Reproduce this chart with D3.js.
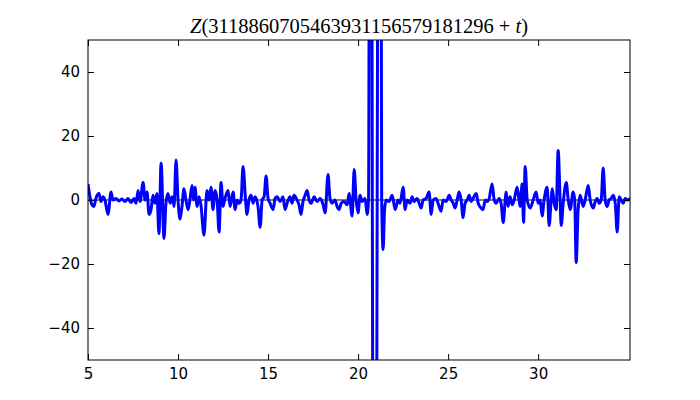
<!DOCTYPE html>
<html>
<head>
<meta charset="utf-8">
<script src="https://cdn.jsdelivr.net/npm/d3@7"></script>
<style>
  body { margin: 0; background: #fff; }
  svg { display: block; }
  .tick text { font-family: "DejaVu Sans", sans-serif; font-size: 15px; fill: #000; }
</style>
</head>
<body>
<div id="chart"></div>
<script>
// t values and Z(...) values
var tVals = [5.00,5.11,5.22,5.33,5.44,5.61,5.72,5.83,5.94,6.11,6.28,6.39,6.56,6.72,6.89,7.06,7.22,7.39,7.56,7.67,
  7.78,7.89,8.06,8.17,8.28,8.39,8.50,8.61,8.72,8.83,8.94,9.06,9.22,9.33,9.44,9.56,9.67,9.78,9.89,10.00,
  10.11,10.22,10.33,10.44,10.56,10.67,10.78,10.86,10.94,11.06,11.17,11.28,11.44,11.61,11.72,11.83,11.94,12.06,12.17,12.28,
  12.39,12.50,12.61,12.78,12.89,13.06,13.17,13.28,13.39,13.50,13.61,13.75,13.83,13.94,14.06,14.17,14.28,14.44,14.56,14.67,
  14.78,14.89,15.00,15.11,15.28,15.39,15.50,15.67,15.83,15.94,16.06,16.22,16.33,16.44,16.61,16.72,16.83,16.94,17.06,17.17,
  17.28,17.39,17.56,17.72,17.89,18.06,18.17,18.33,18.44,18.56,18.72,18.83,18.94,19.06,19.22,19.39,19.50,19.67,19.78,19.89,
  20.00,20.11,20.22,20.39,20.50,20.58,20.69,20.79,20.92,21.06,21.19,21.31,21.39,21.47,21.56,21.72,21.89,22.06,22.22,22.33,
  22.50,22.61,22.72,22.89,23.00,23.11,23.28,23.39,23.50,23.61,23.78,23.94,24.06,24.17,24.33,24.44,24.61,24.72,24.89,25.06,
  25.17,25.28,25.39,25.50,25.61,25.72,25.83,25.94,26.06,26.17,26.28,26.39,26.56,26.67,26.83,26.94,27.06,27.17,27.28,27.44,
  27.56,27.67,27.83,27.94,28.06,28.17,28.22,28.33,28.44,28.56,28.67,28.83,28.94,29.00,29.11,29.19,29.28,29.39,29.56,29.72,
  29.89,30.00,30.11,30.22,30.33,30.50,30.61,30.72,30.78,30.89,31.00,31.11,31.22,31.28,31.39,31.56,31.67,31.78,31.94,32.03,
  32.11,32.22,32.33,32.50,32.61,32.78,32.89,33.06,33.17,33.28,33.39,33.50,33.61,33.72,33.83,33.94,34.06,34.17,34.28,34.39,
  34.50,34.61,34.72,34.83,34.94,35.11];

var zVals = [5,1,-1.5,-2,0.5,2,-0.5,1,0,-4.5,2.5,0,0.5,-0.3,0.3,-0.5,0.5,-0.8,0.5,-1,
  3,-0.5,5.5,0,2.5,-4.5,-3,1.5,-1,2,-10.5,11.5,-12,-1,2,-1,1,-2,12.5,0,
  -6,-2,3.5,0,-3,0.5,4.5,0,4,-2,1,-2,-11,3,0,4,-3,3,0,-10,
  5.5,-2,0.5,3,-2,2.5,-3,0,-1,0,10.5,0,-4.5,0,1.5,-1,1,-2,-8.5,0,
  1,7.5,0.5,-1,-3,0.5,1,-0.5,1,-3,-1,1,-1,1.5,0,-1.5,-4.5,-0.5,1.5,3,
  0,-1,1,-0.5,0.5,-1.5,-4,8,0.5,-1,0,-2,-3,-1,-0.5,-1.5,2,-5,9.5,0,
  -4,1.5,-0.5,0.5,-4.5,0,300,0,-300,0,300,0,-15.5,-3,0,-0.5,1.5,-3,0,-1,
  4,-3,0,-1,1,-0.5,0.5,-1,-2.5,0,0.5,2.5,-4.5,0,0.5,-1,-3.5,0,-0.5,1.5,
  0,-1,-2.5,0,2.5,0,-5.5,-1,0,1.5,-0.5,0.5,2,-1,-2.5,-3,0,-0.5,0.5,5,
  0,-1,0.5,-1,-7,0,2.5,-2,1,-1.5,0,4,0,-2,5,-7,10.5,0,-2.5,0,
  2.5,-1,0,-5,0,4,-8,0,3.5,-1,-3,15.5,0,-8,-1,5.5,0,-3,2.5,0,
  -19.5,-3,1.5,-2,0,4.5,0,-2.5,-0.5,0.5,-1,0,10,0,-2,0,0.5,1.5,-1,-10,
  1,0,-1,0.5,0,0.5];

var xTicks = [5, 10, 15, 20, 25, 30];
var yTicks = [-40, -20, 0, 20, 40];
var titleText = "3118860705463931156579181296";

var width = 700, height = 400;
var margin = {top: 40, right: 70, bottom: 40, left: 88};
var w = width - margin.left - margin.right;
var h = height - margin.top - margin.bottom;

var svg = d3.select('#chart').append('svg')
  .attr('width', width)
  .attr('height', height);

svg.append('rect').attr('width', width).attr('height', height).attr('fill', '#fff');

var g = svg.append('g').attr('transform', 'translate(' + margin.left + ',' + margin.top + ')');

var x = d3.scaleLinear().domain([5, 35.1]).range([0, w]);
var y = d3.scaleLinear().domain([-50, 50]).range([h, 0]);

var data = tVals.map(function(t, i) { return {t: t, z: zVals[i]}; });

g.append('clipPath').attr('id', 'clip')
  .append('rect').attr('width', w).attr('height', h);

// zero line
g.append('line')
  .attr('x1', 0).attr('x2', w)
  .attr('y1', y(0)).attr('y2', y(0))
  .style('stroke', '#000')
  .style('stroke-width', 1);

var line = d3.line()
  .x(function(d) { return x(d.t); })
  .y(function(d) { return y(d.z); })
  .curve(d3.curveMonotoneX);

g.append('path')
  .datum(data)
  .attr('clip-path', 'url(#clip)')
  .attr('d', line)
  .style('fill', 'none')
  .style('stroke', '#0000ff')
  .style('stroke-width', 3)
  .style('stroke-linejoin', 'round');

// axes, ticks pointing inward like the classic style
g.append('g').attr('transform', 'translate(0,' + h + ')')
  .call(d3.axisBottom(x).tickValues(xTicks).tickSize(-6).tickPadding(8));
g.append('g')
  .call(d3.axisTop(x).tickValues(xTicks).tickSize(-6).tickFormat(''));
g.append('g')
  .call(d3.axisLeft(y).tickValues(yTicks).tickSize(-6).tickPadding(8));
g.append('g').attr('transform', 'translate(' + w + ',0)')
  .call(d3.axisRight(y).tickValues(yTicks).tickSize(-6).tickFormat(''));

g.selectAll('.domain').remove();
g.selectAll('.tick line').style('stroke', '#000');

g.append('rect')
  .attr('width', w).attr('height', h)
  .style('fill', 'none')
  .style('stroke', '#000')
  .style('stroke-width', 1);

// title
var title = svg.append('text')
  .attr('x', margin.left + w / 2)
  .attr('y', 33)
  .attr('text-anchor', 'middle')
  .style('font-family', '"Liberation Serif", serif')
  .style('font-size', '20.5px');
title.append('tspan').style('font-style', 'italic').text('Z');
title.append('tspan').text('(' + titleText + ' + ');
title.append('tspan').style('font-style', 'italic').text('t');
title.append('tspan').text(')');
</script>
</body>
</html>
